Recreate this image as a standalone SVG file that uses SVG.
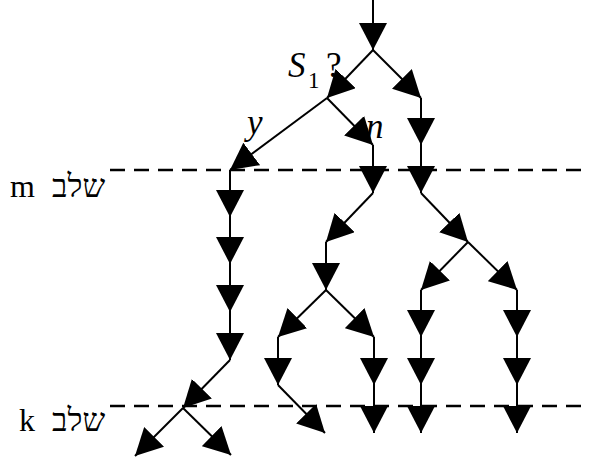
<svg xmlns="http://www.w3.org/2000/svg" width="589" height="460" viewBox="0 0 589 460">
<style>
.e{stroke:#000;stroke-width:2;fill:none;marker-end:url(#ah)}
.d{stroke:#000;stroke-width:2.5;stroke-dasharray:15 9;fill:none}
.t{font-family:"Liberation Serif","Times New Roman",serif;fill:#000}
.h{font-family:"Liberation Serif","DejaVu Sans","Noto Sans",serif;fill:#000}
.i{font-style:italic}
</style>
<defs>
<marker id="ah" viewBox="0 0 27 28" refX="27" refY="14" markerWidth="27" markerHeight="28" markerUnits="userSpaceOnUse" orient="auto">
<path d="M0,0 L27,14 L0,28 Z" fill="#000"/>
</marker>
</defs>
<rect width="589" height="460" fill="#fff"/>
<g id="stage-lines">
<line class="d" x1="110" y1="170" x2="589" y2="170"/>
<line class="d" x1="110" y1="406" x2="589" y2="406"/>
</g>
<g id="connectors">
<line class="e" x1="373" y1="0" x2="373" y2="50"/>
<line class="e" x1="373" y1="50" x2="327" y2="98"/>
<line class="e" x1="373" y1="50" x2="421" y2="98"/>
<line class="e" x1="327" y1="98" x2="230" y2="170"/>
<line class="e" x1="327" y1="98" x2="373" y2="145"/>
<line class="e" x1="421" y1="98" x2="421" y2="145"/>
<line class="e" x1="373" y1="145" x2="373" y2="193"/>
<line class="e" x1="421" y1="145" x2="421" y2="193"/>
<line class="e" x1="373" y1="193" x2="326" y2="242"/>
<line class="e" x1="421" y1="193" x2="468" y2="242"/>
<line class="e" x1="326" y1="242" x2="326" y2="290"/>
<line class="e" x1="468" y1="242" x2="421" y2="290"/>
<line class="e" x1="468" y1="242" x2="517" y2="290"/>
<line class="e" x1="326" y1="290" x2="278" y2="337"/>
<line class="e" x1="326" y1="290" x2="374" y2="337"/>
<line class="e" x1="421" y1="290" x2="421" y2="337"/>
<line class="e" x1="517" y1="290" x2="517" y2="337"/>
<line class="e" x1="278" y1="337" x2="278" y2="385"/>
<line class="e" x1="374" y1="337" x2="374" y2="385"/>
<line class="e" x1="421" y1="337" x2="421" y2="385"/>
<line class="e" x1="517" y1="337" x2="517" y2="385"/>
<line class="e" x1="278" y1="385" x2="325" y2="433"/>
<line class="e" x1="374" y1="385" x2="374" y2="433"/>
<line class="e" x1="421" y1="385" x2="421" y2="433"/>
<line class="e" x1="517" y1="385" x2="517" y2="433"/>
<line class="e" x1="230" y1="170" x2="230" y2="217"/>
<line class="e" x1="230" y1="217" x2="230" y2="264"/>
<line class="e" x1="230" y1="264" x2="230" y2="312"/>
<line class="e" x1="230" y1="312" x2="230" y2="360"/>
<line class="e" x1="230" y1="360" x2="183" y2="408"/>
<line class="e" x1="183" y1="408" x2="135" y2="456"/>
<line class="e" x1="183" y1="408" x2="231" y2="455"/>
</g>
<g id="label-s1">
<text class="t i" x="288" y="77" font-size="35">S</text>
<text class="t" x="308" y="88" font-size="23">1</text>
<text class="t" x="326" y="77" font-size="35">?</text>
</g>
<g id="label-y"><text class="t i" x="247" y="134" font-size="35">y</text></g>
<g id="label-n"><text class="t i" x="366" y="138" font-size="35">n</text></g>
<g id="label-stage-m">
<text class="t" x="10" y="197" font-size="32">m</text>
<text class="h" x="52" y="197" font-size="32">שלב</text>
</g>
<g id="label-stage-k">
<text class="t" x="19" y="431" font-size="32">k</text>
<text class="h" x="52" y="431" font-size="32">שלב</text>
</g>
</svg>
